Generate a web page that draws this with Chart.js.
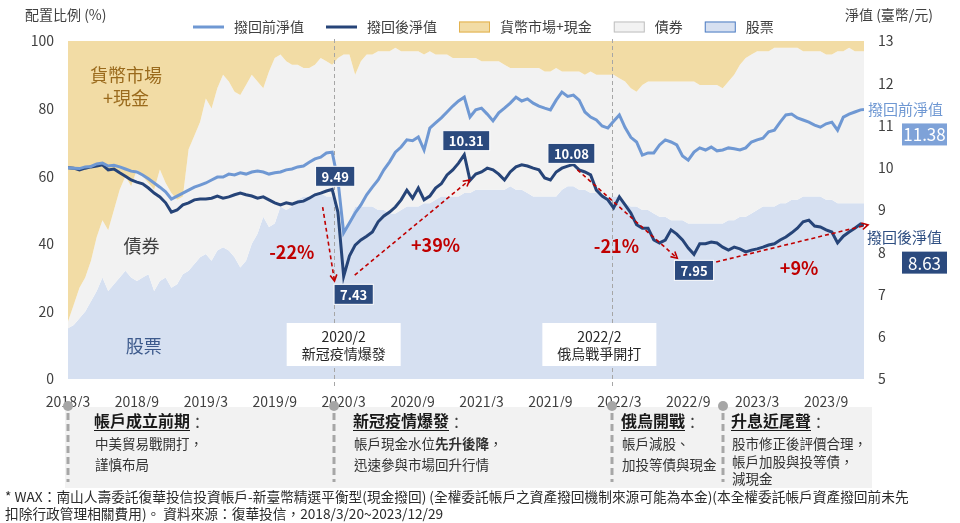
<!DOCTYPE html>
<html lang="zh-Hant">
<head>
  <meta charset="UTF-8">
  <title>WAX 配置比例與淨值</title>
  <style>
    * { margin: 0; padding: 0; box-sizing: border-box; }
    body { background: #ffffff; width: 960px; height: 523px; overflow: hidden; }
    canvas { display: block; }
  </style>
  <script src="https://cdn.jsdelivr.net/npm/chart.js@4.4.1/dist/chart.umd.min.js"></script>
</head>
<body>
  <canvas id="waxChart" width="960" height="523"></canvas>

  <script>
    // 時間軸：自 2018/3/20 起算的月數（約每半個月一點）
    const months = [
      0, 0.5, 1, 1.5, 2, 2.5, 3, 3.5, 4, 4.5, 5, 5.5, 6, 6.5, 7, 7.5, 8, 8.5, 9, 9.5,
      10, 10.5, 11, 11.5, 12, 12.5, 13, 13.5, 14, 14.5, 15, 15.5, 16, 16.5, 17, 17.5, 18, 18.5, 19, 19.5,
      20, 20.5, 21, 21.5, 22, 22.5, 23, 23.5, 24, 24.5, 25, 25.5, 26, 26.5, 27, 27.5, 28, 28.5, 29, 29.5,
      30, 30.5, 31, 31.5, 32, 32.5, 33, 33.5, 34, 34.5, 35, 35.5, 36, 36.5, 37, 37.5, 38, 38.5, 39, 39.5,
      40, 40.5, 41, 41.5, 42, 42.5, 43, 43.5, 44, 44.5, 45, 45.5, 46, 46.5, 47, 47.5, 48, 48.5, 49, 49.5,
      50, 50.5, 51, 51.5, 52, 52.5, 53, 53.5, 54, 54.5, 55, 55.5, 56, 56.5, 57, 57.5, 58, 58.5, 59, 59.5,
      60, 60.5, 61, 61.5, 62, 62.5, 63, 63.5, 64, 64.5, 65, 65.5, 66, 66.5, 67, 67.5, 68, 68.5, 69, 69.3
    ];
    const tickLabels = ['2018/3', '2018/9', '2019/3', '2019/9', '2020/3', '2020/9',
                        '2021/3', '2021/9', '2022/3', '2022/9', '2023/3', '2023/9'];

    // 撥回前淨值 / 撥回後淨值（右軸）
    const navBefore = [
      10.00, 9.99, 9.98, 10.02, 10.03, 10.09, 10.11, 10.04, 10.06, 10.02,
      9.97, 9.92, 9.90, 9.83, 9.74, 9.64, 9.54, 9.43, 9.26, 9.33,
      9.40, 9.47, 9.54, 9.59, 9.64, 9.71, 9.78, 9.78, 9.85, 9.83,
      9.88, 9.85, 9.90, 9.92, 9.90, 9.85, 9.88, 9.90, 9.95, 9.97,
      10.02, 10.04, 10.13, 10.21, 10.25, 10.35, 10.37, 9.70, 8.46, 8.69,
      8.93, 9.12, 9.36, 9.54, 9.71, 9.95, 10.14, 10.37, 10.49, 10.66,
      10.64, 10.73, 10.42, 10.94, 11.06, 11.18, 11.32, 11.46, 11.58, 11.67,
      11.20, 11.37, 11.41, 11.27, 11.11, 11.30, 11.41, 11.53, 11.67, 11.58,
      11.63, 11.53, 11.46, 11.41, 11.37, 11.60, 11.79, 11.69, 11.72, 11.60,
      11.32, 11.20, 11.13, 10.99, 10.94, 11.10, 11.25, 10.95, 10.72, 10.61,
      10.30, 10.35, 10.35, 10.54, 10.66, 10.61, 10.54, 10.28, 10.18, 10.37,
      10.47, 10.42, 10.49, 10.40, 10.42, 10.47, 10.45, 10.42, 10.47, 10.61,
      10.66, 10.70, 10.85, 10.89, 11.08, 11.25, 11.27, 11.18, 11.13, 11.08,
      11.01, 10.96, 11.04, 11.08, 10.89, 11.20, 11.27, 11.32, 11.37, 11.38
    ];
    const navAfter = [
      10.00, 9.99, 9.95, 9.99, 10.02, 10.04, 10.07, 9.95, 9.97, 9.88,
      9.80, 9.71, 9.66, 9.62, 9.52, 9.40, 9.31, 9.17, 8.95, 9.00,
      9.12, 9.17, 9.24, 9.26, 9.26, 9.28, 9.33, 9.28, 9.31, 9.36,
      9.40, 9.36, 9.33, 9.28, 9.31, 9.24, 9.17, 9.12, 9.17, 9.14,
      9.19, 9.21, 9.28, 9.36, 9.40, 9.45, 9.49, 8.95, 7.43, 7.91,
      8.17, 8.29, 8.38, 8.48, 8.72, 8.86, 8.95, 9.07, 9.24, 9.47,
      9.28, 9.52, 9.24, 9.33, 9.52, 9.62, 9.83, 9.95, 10.11, 10.31,
      9.70, 9.85, 9.90, 9.99, 9.95, 9.85, 9.71, 9.90, 10.02, 10.07,
      10.04, 9.99, 9.95, 9.76, 9.71, 9.90, 9.99, 10.04, 10.08, 9.95,
      9.90, 9.83, 9.47, 9.33, 9.24, 9.05, 9.31, 9.12, 8.93, 8.65,
      8.57, 8.57, 8.29, 8.22, 8.29, 8.53, 8.43, 8.29, 8.10, 7.95,
      8.20, 8.20, 8.24, 8.22, 8.12, 8.05, 8.12, 8.08, 8.01, 8.05,
      8.08, 8.12, 8.17, 8.20, 8.29, 8.36, 8.46, 8.57, 8.72, 8.76,
      8.62, 8.60, 8.53, 8.48, 8.22, 8.38, 8.48, 8.57, 8.67, 8.63
    ];

    // 配置比例 (%)（左軸）
    const stockPct = [
      15, 16, 18, 20, 23, 26, 30, 26, 28, 30, 32, 30, 29, 30, 31, 26, 29, 30, 27, 28,
      31, 32, 34, 36, 37, 35, 38, 39, 38, 36, 33, 35, 40, 43, 48, 45, 46, 51, 50, 51,
      53, 54, 54, 55, 55, 54, 54, 49, 43, 47, 51, 51, 51, 51, 50, 50, 49, 49, 50, 51,
      51, 51, 52, 52, 53, 54, 54, 54, 54, 55, 55, 56, 56, 56, 56, 56, 56, 57, 56, 56,
      55, 54, 54, 54, 54, 54, 56, 57, 57, 56, 56, 55, 55, 54, 54, 54, 54, 52, 51, 51,
      50, 50, 49, 48, 48, 47, 47, 47, 46, 46, 46, 46, 46, 46, 46, 47, 47, 48, 48, 49,
      50, 51, 51, 51, 52, 52, 53, 53, 54, 54, 54, 54, 53, 53, 52, 52, 52, 52, 52, 52
    ];
    const bondPct = [
      2, 6, 9, 10, 12, 16, 17, 18, 22, 26, 28, 27, 33, 30, 27, 30, 33, 28, 28, 25,
      23, 36, 38, 40, 46, 45, 48, 51, 50, 49, 51, 52, 50, 45, 38, 46, 49, 45, 44, 42,
      40, 38, 38, 38, 40, 40, 39, 46, 53, 49, 39, 43, 45, 45, 47, 47, 48, 49, 47, 46,
      46, 46, 44, 45, 43, 42, 42, 41, 41, 40, 40, 39, 38, 38, 38, 38, 37, 35, 36, 36,
      37, 38, 38, 37, 37, 38, 35, 34, 34, 35, 34, 36, 35, 36, 36, 36, 35, 36, 35, 34,
      37, 38, 39, 40, 40, 41, 41, 41, 42, 42, 41, 41, 41, 41, 40, 41, 43, 45, 47, 47,
      47, 46, 46, 47, 46, 46, 45, 45, 43, 43, 43, 43, 43, 43, 45, 45, 46, 45, 45, 45
    ];
    const cashPct = [
      83, 78, 73, 70, 65, 58, 53, 56, 50, 44, 40, 43, 38, 40, 42, 44, 38, 42, 45, 47,
      46, 32, 28, 24, 17, 20, 14, 10, 12, 15, 16, 13, 10, 12, 14, 9, 5, 4, 6, 7,
      7, 8, 8, 7, 5, 6, 7, 5, 4, 4, 10, 6, 4, 4, 3, 3, 3, 2, 3, 3,
      3, 3, 4, 3, 4, 4, 4, 5, 5, 5, 5, 5, 6, 6, 6, 6, 7, 8, 8, 8,
      8, 8, 8, 9, 9, 8, 9, 9, 9, 9, 10, 9, 10, 10, 10, 10, 11, 12, 14, 15,
      13, 12, 12, 12, 12, 12, 12, 12, 12, 12, 13, 13, 13, 13, 14, 12, 10, 7, 5, 4,
      3, 3, 3, 2, 2, 2, 2, 2, 3, 3, 3, 3, 4, 4, 3, 3, 2, 3, 3, 3
    ];

    // 標註
    const eventMonths = [23.13, 47.4];
    const eventBoxes = [
      { m: 24.0, pct: 10.2, lines: ['2020/2', '新冠疫情爆發'] },
      { m: 46.26, pct: 10.2, lines: ['2022/2', '俄烏戰爭開打'] }
    ];
    const callouts = [
      { m: 23.0, v: 9.49, dx: 3, dy: -13 },
      { m: 24.0, v: 7.43, dx: 10, dy: 18 },
      { m: 34.5, v: 10.31, dx: 2, dy: -14 },
      { m: 44.0, v: 10.08, dx: -2, dy: -11 },
      { m: 54.5, v: 7.95, dx: 0, dy: 16 }
    ];
    const arrows = [
      { from: [22.17, 9.07], to: [23.2, 7.32] },
      { from: [24.96, 7.46], to: [34.96, 9.71] },
      { from: [44.35, 9.95], to: [53.04, 7.86] },
      { from: [56.43, 7.77], to: [69.65, 8.65] }
    ];
    const changeLabels = [
      { text: '-22%', m: 19.48, v: 8.0 },
      { text: '+39%', m: 32.0, v: 8.17 },
      { text: '-21%', m: 47.74, v: 8.15 },
      { text: '+9%', m: 63.65, v: 7.63 }
    ];
    const areaLabels = [
      { lines: ['貨幣市場', '+現金'], m: 5.04, pct: 86.5, color: '#9a6a1c' },
      { lines: ['債券'], m: 6.4, pct: 39.3, color: '#404040' },
      { lines: ['股票'], m: 6.6, pct: 9.8, color: '#3d5a8c' }
    ];
    const phases = [
      { m: 0, dx: 26, title: '帳戶成立前期', body: [[['中美貿易戰開打，']], [['謹慎布局']]] },
      { m: 23.13, dx: 19, title: '新冠疫情爆發', body: [[['帳戶現金水位'], ['先升後降', true], ['，']], [['迅速參與市場回升行情']]] },
      { m: 47.4, dx: 9, title: '俄烏開戰', body: [[['帳戶減股、']], [['加投等債與現金']]] },
      { m: 57.0, dx: 8, title: '升息近尾聲', body: [[['股市修正後評價合理，']], [['帳戶加股與投等債，']], [['減現金']]] }
    ];
    const footnotes = [
      '* WAX：南山人壽委託復華投信投資帳戶-新臺幣精選平衡型(現金撥回) (全權委託帳戶之資產撥回機制來源可能為本金)(本全權委託帳戶資產撥回前未先',
      '扣除行政管理相關費用)。 資料來源：復華投信，2018/3/20~2023/12/29'
    ];

    const FONT = '"Noto Sans CJK TC", "Noto Sans", sans-serif';
    const f = (size, weight) => (weight || 'normal') + ' ' + size + 'px ' + FONT;
    const AXIS_COLOR = '#404040';
    const LIGHT = '#6f98d3';
    const DARK = '#264478';
    const RED = '#c00000';

    const stockTop = stockPct.map(v => v);
    const bondTop = stockPct.map((v, i) => v + bondPct[i]);
    const cashTop = stockPct.map((v, i) => v + bondPct[i] + cashPct[i]);
    const pts = arr => arr.map((v, i) => ({ x: months[i], y: v }));

    function text(ctx, str, x, y, font, color, align) {
      ctx.font = font;
      ctx.fillStyle = color;
      ctx.textAlign = align || 'left';
      ctx.textBaseline = 'middle';
      ctx.fillText(str, x, y);
      return ctx.measureText(str).width;
    }

    function arrowHead(ctx, x1, y1, x2, y2) {
      const a = Math.atan2(y2 - y1, x2 - x1);
      const s = 7;
      ctx.setLineDash([]);
      ctx.beginPath();
      ctx.moveTo(x2 - s * Math.cos(a - 0.5), y2 - s * Math.sin(a - 0.5));
      ctx.lineTo(x2, y2);
      ctx.lineTo(x2 - s * Math.cos(a + 0.5), y2 - s * Math.sin(a + 0.5));
      ctx.stroke();
    }

    const decorations = {
      id: 'decorations',
      // 在面積圖之後、淨值線之前畫
      afterDatasetDraw(chart, args) {
        if (args.index !== 2) return;
        const { ctx, chartArea, scales } = chart;
        ctx.save();
        ctx.strokeStyle = '#a6a6a6';
        ctx.lineWidth = 1;
        ctx.setLineDash([4, 3]);
        eventMonths.forEach(m => {
          const x = Math.round(scales.x.getPixelForValue(m)) + 0.5;
          ctx.beginPath();
          ctx.moveTo(x, chartArea.top - 2);
          ctx.lineTo(x, chartArea.bottom + 7);
          ctx.stroke();
        });
        ctx.setLineDash([]);
        areaLabels.forEach(l => {
          const x = scales.x.getPixelForValue(l.m);
          const y = scales.y.getPixelForValue(l.pct);
          l.lines.forEach((s, i) => {
            text(ctx, s, x, y + (i - (l.lines.length - 1) / 2) * 23, f(18), l.color, 'center');
          });
        });
        ctx.restore();
      },
      afterDatasetsDraw(chart) {
        const { ctx, scales } = chart;
        const X = m => scales.x.getPixelForValue(m);
        const Y2 = v => scales.y2.getPixelForValue(v);
        ctx.save();

        // 事件說明框
        eventBoxes.forEach(b => {
          const cx = X(b.m), cy = scales.y.getPixelForValue(b.pct);
          ctx.fillStyle = '#ffffff';
          ctx.fillRect(cx - 57, cy - 21.5, 114, 43);
          text(ctx, b.lines[0], cx, cy - 8, f(14), '#262626', 'center');
          text(ctx, b.lines[1], cx, cy + 9, f(14), '#262626', 'center');
        });

        // 紅色虛線箭頭
        ctx.strokeStyle = RED;
        ctx.lineWidth = 1.6;
        arrows.forEach(a => {
          const x1 = X(a.from[0]), y1 = Y2(a.from[1]);
          const x2 = X(a.to[0]), y2 = Y2(a.to[1]);
          ctx.setLineDash([4, 3]);
          ctx.beginPath();
          ctx.moveTo(x1, y1);
          ctx.lineTo(x2, y2);
          ctx.stroke();
          arrowHead(ctx, x1, y1, x2, y2);
        });
        changeLabels.forEach(c => text(ctx, c.text, X(c.m), Y2(c.v), f(18, 'bold'), RED, 'center'));

        // 淨值數字框
        callouts.forEach(c => {
          const cx = X(c.m) + c.dx, cy = Y2(c.v) + c.dy;
          const label = c.v.toFixed(2);
          ctx.font = f(13, 'bold');
          const w = ctx.measureText(label).width + 12;
          ctx.fillStyle = '#2b4a7e';
          ctx.fillRect(cx - w / 2, cy - 10, w, 20);
          ctx.strokeStyle = '#ffffff';
          ctx.lineWidth = 1;
          ctx.strokeRect(cx - w / 2, cy - 10, w, 20);
          text(ctx, label, cx, cy + 0.5, f(13, 'bold'), '#ffffff', 'center');
        });
        ctx.restore();
      },
      afterDraw(chart) {
        const { ctx, chartArea, scales } = chart;
        const X = m => scales.x.getPixelForValue(m);
        const Y2 = v => scales.y2.getPixelForValue(v);
        ctx.save();

        // 軸標題
        text(ctx, '配置比例 (%)', 25, 15, f(14), AXIS_COLOR, 'left');
        text(ctx, '淨值 (臺幣/元)', 845, 15, f(14), AXIS_COLOR, 'left');

        // 圖例
        let lx = 193;
        const ly = 27;
        chart.data.datasets.forEach(ds => {
          if (ds.yAxisID === 'y2') {
            ctx.strokeStyle = ds.borderColor;
            ctx.lineWidth = 3;
            ctx.beginPath();
            ctx.moveTo(lx, ly);
            ctx.lineTo(lx + 31, ly);
            ctx.stroke();
          } else {
            ctx.fillStyle = ds.backgroundColor;
            ctx.fillRect(lx, ly - 5.5, 31, 11);
            ctx.strokeStyle = ds.legendBorder;
            ctx.lineWidth = 1;
            ctx.strokeRect(lx + 0.5, ly - 5, 30, 10);
          }
          const w = text(ctx, ds.label, lx + 41, ly, f(14), AXIS_COLOR, 'left');
          lx += 41 + w + 22;
        });

        // 期末淨值
        const endBefore = navBefore[navBefore.length - 1];
        const endAfter = navAfter[navAfter.length - 1];
        const rx = chartArea.right + 4;
        text(ctx, '撥回前淨值', rx, Y2(endBefore), f(15), LIGHT, 'left');
        ctx.fillStyle = '#7ea2d8';
        ctx.fillRect(902, Y2(endBefore) + 14, 45, 22);
        text(ctx, endBefore.toFixed(2), 924.5, Y2(endBefore) + 25.5, f(17), '#ffffff', 'center');
        text(ctx, '撥回後淨值', rx - 1, Y2(endAfter) + 12, f(15), '#2f4f82', 'left');
        ctx.fillStyle = '#2b4a7e';
        ctx.fillRect(902, Y2(endAfter) + 26, 45, 22);
        text(ctx, endAfter.toFixed(2), 924.5, Y2(endAfter) + 37.5, f(17), '#ffffff', 'center');

        // 下方階段說明
        const top = 407, bottom = 488;
        ctx.fillStyle = '#f2f2f2';
        ctx.fillRect(chartArea.left - 3, top, chartArea.right + 8 - (chartArea.left - 3), bottom - top);
        phases.forEach(p => {
          const x = Math.round(X(p.m));
          ctx.strokeStyle = '#a6a6a6';
          ctx.lineWidth = 3;
          ctx.setLineDash([7, 4]);
          ctx.beginPath();
          ctx.moveTo(x, top + 6);
          ctx.lineTo(x, bottom - 6);
          ctx.stroke();
          ctx.setLineDash([]);
          ctx.fillStyle = '#a6a6a6';
          ctx.beginPath();
          ctx.arc(x, top - 1, 5, 0, Math.PI * 2);
          ctx.fill();

          const tx = x + p.dx;
          const tw = text(ctx, p.title, tx, 421, f(16, 'bold'), '#1a1a1a', 'left');
          ctx.strokeStyle = '#1a1a1a';
          ctx.lineWidth = 1;
          ctx.beginPath();
          ctx.moveTo(tx, 430.5);
          ctx.lineTo(tx + tw, 430.5);
          ctx.stroke();
          text(ctx, '：', tx + tw, 422, f(15), '#404040', 'left');
          const step = p.body.length > 2 ? 17.5 : 21;
          p.body.forEach((segs, i) => {
            let sx = tx + 1;
            segs.forEach(seg => {
              sx += text(ctx, seg[0], sx, 444 + i * step, f(13.5, seg[1] ? 'bold' : 'normal'), '#333333', 'left');
            });
          });
        });

        // 註腳
        footnotes.forEach((s, i) => text(ctx, s, 5, 497 + i * 17, f(13.7), '#2b2b2b', 'left'));
        ctx.restore();
      }
    };

    const axisFont = { family: FONT, size: 14 };

    new Chart(document.getElementById('waxChart'), {
      type: 'line',
      data: {
        datasets: [
          { label: '撥回前淨值', data: pts(navBefore), yAxisID: 'y2', borderColor: LIGHT, borderWidth: 3, pointRadius: 0, fill: false },
          { label: '撥回後淨值', data: pts(navAfter), yAxisID: 'y2', borderColor: DARK, borderWidth: 3, pointRadius: 0, fill: false },
          { label: '貨幣市場+現金', data: pts(cashTop), yAxisID: 'y', backgroundColor: '#f2dca5', legendBorder: '#e3b24f', borderColor: 'rgba(0,0,0,0)', borderWidth: 0, pointRadius: 0, fill: '+1' },
          { label: '債券', data: pts(bondTop), yAxisID: 'y', backgroundColor: '#f2f2f2', legendBorder: '#bfbfbf', borderColor: 'rgba(0,0,0,0)', borderWidth: 0, pointRadius: 0, fill: '+1' },
          { label: '股票', data: pts(stockTop), yAxisID: 'y', backgroundColor: '#d6e0f1', legendBorder: '#4f7ec4', borderColor: 'rgba(0,0,0,0)', borderWidth: 0, pointRadius: 0, fill: 'origin' }
        ]
      },
      options: {
        responsive: false,
        animation: false,
        layout: { padding: { top: 41, left: 0, right: 0, bottom: 0 } },
        plugins: { legend: { display: false }, tooltip: { enabled: false } },
        scales: {
          x: {
            type: 'linear',
            min: 0,
            max: 69.3,
            afterBuildTicks: s => { s.ticks = tickLabels.map((_, i) => ({ value: i * 6 })); },
            afterFit: s => { s.height = 144; },
            ticks: {
              callback: v => tickLabels[Math.round(v / 6)],
              color: AXIS_COLOR, font: axisFont, padding: 14, maxRotation: 0, autoSkip: false
            },
            grid: { display: false, drawTicks: false },
            border: { display: false }
          },
          y: {
            position: 'left',
            min: 0,
            max: 100,
            afterFit: s => { s.width = 68; },
            ticks: { stepSize: 20, color: AXIS_COLOR, font: axisFont, padding: 14 },
            grid: { display: false, drawTicks: false },
            border: { display: false }
          },
          y2: {
            position: 'right',
            min: 5,
            max: 13,
            afterFit: s => { s.width = 96; },
            ticks: { stepSize: 1, color: AXIS_COLOR, font: axisFont, padding: 14 },
            grid: { display: false, drawTicks: false },
            border: { display: false }
          }
        }
      },
      plugins: [decorations]
    });
  </script>
</body>
</html>
